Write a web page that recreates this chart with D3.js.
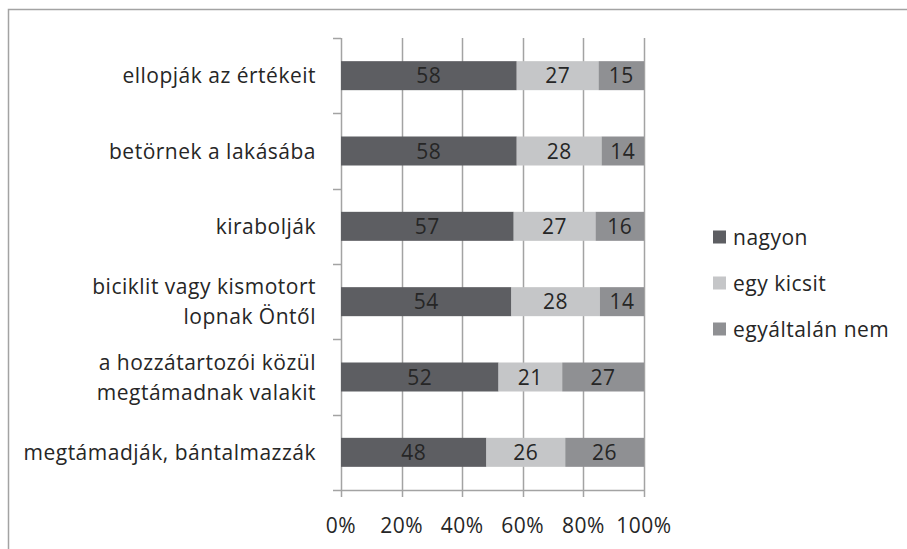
<!DOCTYPE html>
<html>
<head>
<meta charset="utf-8">
<script src="https://cdn.jsdelivr.net/npm/d3@7"></script>
<style>
  body { margin: 0; background: #fff; }
  svg text { font-family: "Open Sans", sans-serif; fill: #262626; letter-spacing: 0.5px; }
</style>
</head>
<body>
<div id="chart"></div>
<script>
// data
const categories = [
    ["ellopják az értékeit"],
    ["betörnek a lakásába"],
    ["kirabolják"],
    ["biciklit vagy kismotort", "lopnak Öntől"],
    ["a hozzátartozói közül", "megtámadnak valakit"],
    ["megtámadják, bántalmazzák"]
];
const seriesNames = ["nagyon", "egy kicsit", "egyáltalán nem"];
const nagyon = [58, 58, 57, 54, 52, 48];
const egyKicsit = [27, 28, 27, 28, 21, 26];
const egyaltalanNem = [15, 14, 16, 14, 27, 26];
const xTicks = [0, 0.2, 0.4, 0.6, 0.8, 1];
const colors = ["#5d5e62", "#c5c6c8", "#8f9093"];

//********************************************************************
//                     CONSTANTS FOR CHART SIZE
//********************************************************************
const WIDTH = 907, HEIGHT = 549;
const PLOT_LEFT = 341, PLOT_RIGHT = 644;
const PLOT_TOP = 38, PLOT_BOTTOM = 490;
const GRID_COLOR = "#a3a3a3";
const FONT_SIZE = "21px";

let rows = categories.map((c, i) => ({
    key: i,
    label: c,
    "nagyon": nagyon[i],
    "egy kicsit": egyKicsit[i],
    "egyáltalán nem": egyaltalanNem[i]
}));

let stacked = d3.stack()
    .keys(seriesNames)
    .offset(d3.stackOffsetExpand)(rows);

let svg = d3.select("#chart").append("svg")
    .attr("width", WIDTH)
    .attr("height", HEIGHT);

// outer frame (cut at right and bottom)
svg.append("path")
    .attr("d", `M8.5,${HEIGHT} V9.5 H${WIDTH}`)
    .attr("fill", "none")
    .attr("stroke", GRID_COLOR)
    .attr("stroke-width", 1.5);

let scaleX = d3.scaleLinear()
    .domain([0, 1])
    .range([PLOT_LEFT, PLOT_RIGHT]);

let scaleY = d3.scaleBand()
    .domain(rows.map(d => d.key))
    .range([PLOT_TOP, PLOT_BOTTOM])
    .paddingInner(0.615)
    .paddingOuter(0.3075);

// vertical grid lines
svg.append("g")
    .selectAll("line")
    .data(xTicks)
    .join("line")
    .attr("x1", d => Math.round(scaleX(d)) + 0.5)
    .attr("x2", d => Math.round(scaleX(d)) + 0.5)
    .attr("y1", PLOT_TOP)
    .attr("y2", PLOT_BOTTOM + 7)
    .attr("stroke", GRID_COLOR)
    .attr("stroke-width", 1.5);

// x axis line
svg.append("line")
    .attr("x1", PLOT_LEFT)
    .attr("x2", PLOT_RIGHT + 1)
    .attr("y1", PLOT_BOTTOM + 0.5)
    .attr("y2", PLOT_BOTTOM + 0.5)
    .attr("stroke", GRID_COLOR)
    .attr("stroke-width", 1.5);

// y axis category tick marks at band boundaries
let boundaries = d3.range(rows.length + 1).map(i => PLOT_TOP + i * scaleY.step());
svg.append("g")
    .selectAll("line")
    .data(boundaries)
    .join("line")
    .attr("x1", PLOT_LEFT - 8)
    .attr("x2", PLOT_LEFT)
    .attr("y1", d => Math.round(d) + 0.5)
    .attr("y2", d => Math.round(d) + 0.5)
    .attr("stroke", GRID_COLOR)
    .attr("stroke-width", 1.5);

// bars
let layers = svg.append("g")
    .selectAll("g")
    .data(stacked)
    .join("g")
    .attr("fill", (d, i) => colors[i]);

layers.selectAll("rect")
    .data(d => d)
    .join("rect")
    .attr("x", d => scaleX(d[0]))
    .attr("y", d => scaleY(d.data.key))
    .attr("width", d => scaleX(d[1]) - scaleX(d[0]))
    .attr("height", scaleY.bandwidth());

// value labels
layers.selectAll("text")
    .data(s => s.map(d => ({ d: d, v: d.data[s.key] })))
    .join("text")
    .attr("x", o => (scaleX(o.d[0]) + scaleX(o.d[1])) / 2)
    .attr("y", o => scaleY(o.d.data.key) + scaleY.bandwidth() / 2)
    .attr("dy", "0.36em")
    .attr("text-anchor", "middle")
    .style("font-size", FONT_SIZE)
    .text(o => o.v);

// category labels
let catLabels = svg.append("g")
    .selectAll("text")
    .data(rows)
    .join("text")
    .attr("text-anchor", "end")
    .attr("x", 316)
    .attr("y", d => scaleY(d.key) + scaleY.bandwidth() / 2)
    .style("font-size", FONT_SIZE);

catLabels.selectAll("tspan")
    .data(d => d.label.map((t, i) => ({ t: t, i: i, n: d.label.length })))
    .join("tspan")
    .attr("x", 316)
    .attr("dy", o => o.i === 0 ? (0.36 - (o.n - 1) * 0.715) + "em" : "1.43em")
    .text(o => o.t);

// x tick labels
svg.append("g")
    .selectAll("text")
    .data(xTicks)
    .join("text")
    .attr("x", d => scaleX(d))
    .attr("y", 525)
    .attr("dy", "0.36em")
    .attr("text-anchor", "middle")
    .style("font-size", FONT_SIZE)
    .text(d => d3.format(".0%")(d));

// legend
let legend = svg.append("g")
    .selectAll("g")
    .data(seriesNames)
    .join("g")
    .attr("transform", (d, i) => `translate(713, ${237 + i * 46})`);

legend.append("rect")
    .attr("x", 0)
    .attr("y", -6.5)
    .attr("width", 13)
    .attr("height", 13)
    .attr("fill", (d, i) => colors[i]);

legend.append("text")
    .attr("x", 20)
    .attr("y", 0)
    .attr("dy", "0.36em")
    .style("font-size", FONT_SIZE)
    .text(d => d);
</script>
</body>
</html>
